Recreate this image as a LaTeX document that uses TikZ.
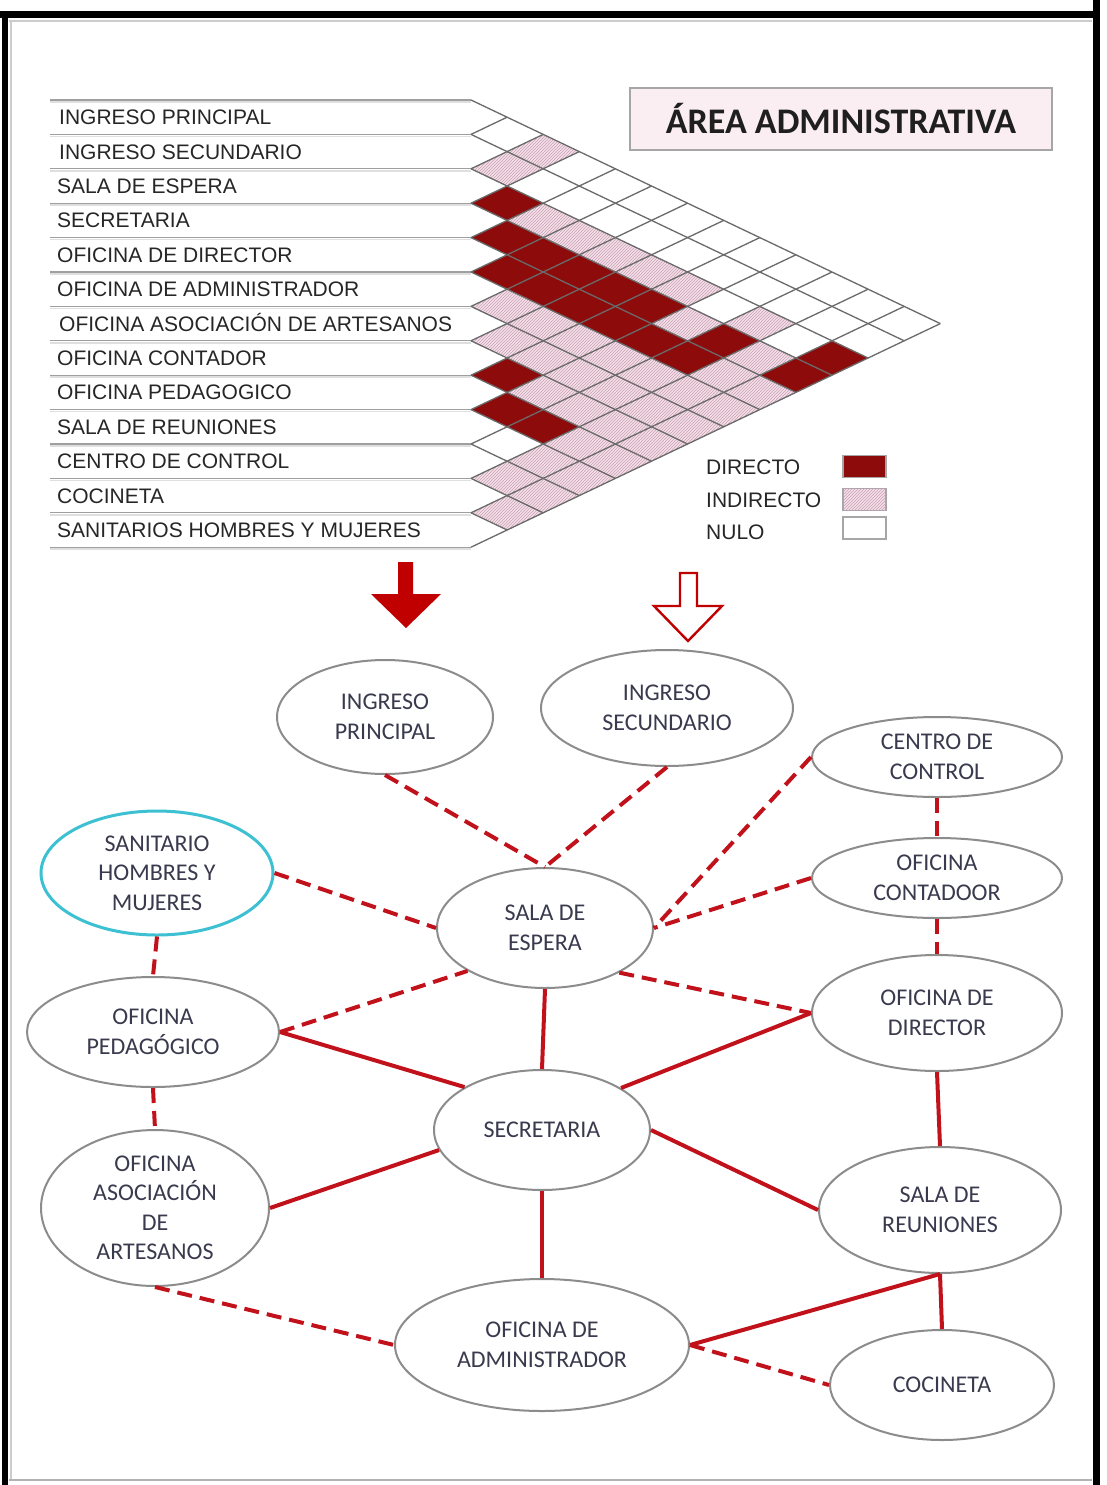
\documentclass[tikz,border=0pt]{standalone}
\usepackage{fontspec}
\setmainfont{Liberation Sans}
\newfontfamily\carlito{Carlito}
\usetikzlibrary{shapes.geometric,patterns}
\definecolor{dred}{HTML}{8E0B0B}
\definecolor{pinkc}{HTML}{F6E0E9}
\definecolor{hatchc}{HTML}{C6A2B6}
\definecolor{gridc}{HTML}{6A6A6A}
\definecolor{edgered}{HTML}{C1121C}
\definecolor{ellc}{HTML}{8C8C8C}
\definecolor{txtc}{HTML}{3A3A4E}
\definecolor{cyanb}{HTML}{3CC0D2}
\definecolor{titlebg}{HTML}{FBEEF3}
\definecolor{arrred}{HTML}{C00000}
\tikzset{
  gridline/.style={draw=gridc, line width=1.3pt},
  rowline/.style={draw=gray!75, line width=1.3pt},
  rowshadow/.style={draw=gray!25, line width=1.5pt},
  lbl/.style={anchor=west, inner sep=0pt, text=black!85, text height=15pt, text depth=0pt,
    font=\fontsize{21}{24}\selectfont},
  legtxt/.style={anchor=west, inner sep=0pt, text=black!85, text height=15pt, text depth=0pt,
    font=\fontsize{21}{24}\selectfont},
  swatch/.style={draw=gray!70, line width=1.2pt, minimum width=43pt, minimum height=22pt, inner sep=0pt},
  dcell/.style={fill=dred},
  icell/.style={fill=pinkc, postaction={pattern=north east lines, pattern color=hatchc}},
  titlebox/.style={draw=gray!70, line width=1.8pt, fill=titlebg, minimum width=422pt, minimum height=62pt,
    inner sep=0pt, text=black!88, font=\carlito\bfseries\fontsize{36}{40}\selectfont},
  room/.style={ellipse, draw=ellc, line width=2pt, fill=white, inner sep=0pt, align=center,
    text=txtc, font=\carlito\fontsize{24}{29.5}\selectfont},
  direct/.style={draw=edgered, line width=4pt},
  indirect/.style={draw=edgered, line width=4pt, dash pattern=on 15pt off 8pt},
}
\begin{document}
\begin{tikzpicture}[x=1pt,y=-1pt]
\useasboundingbox (0,0) rectangle (1107,1485);
\fill[white] (0,0) rectangle (1107,1485);
% frame
\fill[black] (0,11) rectangle (1100,18);
\fill[black] (2,11) rectangle (8,1485);
\fill[black] (1093,0) rectangle (1100,1485);
\draw[gray!40, line width=1.5pt] (9,21) -- (1092,21);
\draw[gray!40, line width=1.5pt] (11,21) -- (11,1480);
\draw[gray!60, line width=1.5pt] (9,1480) -- (1092,1480);

% ---------- matrix rows ----------
\foreach \k in {0,...,13} {
  \draw[rowshadow] (50,{100+\k*34.4+2}) -- (471,{100+\k*34.4+2});
  \draw[rowline] (50,{100+\k*34.4}) -- (471,{100+\k*34.4});
}
\node[lbl] (r1) at (59,{100+0.5*34.4}) {INGRESO PRINCIPAL};
\node[lbl] (r2) at (59,{100+1.5*34.4}) {INGRESO SECUNDARIO};
\node[lbl] (r3) at (57,{100+2.5*34.4}) {SALA DE ESPERA};
\node[lbl] (r4) at (57,{100+3.5*34.4}) {SECRETARIA};
\node[lbl] (r5) at (57,{100+4.5*34.4}) {OFICINA DE DIRECTOR};
\node[lbl] (r6) at (57,{100+5.5*34.4}) {OFICINA DE ADMINISTRADOR};
\node[lbl] (r7) at (59,{100+6.5*34.4}) {OFICINA ASOCIACIÓN DE ARTESANOS};
\node[lbl] (r8) at (57,{100+7.5*34.4}) {OFICINA CONTADOR};
\node[lbl] (r9) at (57,{100+8.5*34.4}) {OFICINA PEDAGOGICO};
\node[lbl] (r10) at (57,{100+9.5*34.4}) {SALA DE REUNIONES};
\node[lbl] (r11) at (57,{100+10.5*34.4}) {CENTRO DE CONTROL};
\node[lbl] (r12) at (57,{100+11.5*34.4}) {COCINETA};
\node[lbl] (r13) at (57,{100+12.5*34.4}) {SANITARIOS HOMBRES Y MUJERES};

% ---------- matrix cells ----------
\foreach \i/\j in {3/4,3/13,4/5,4/6,4/7,4/8,4/9,4/11,4/13,5/6,5/7,5/8,5/9,5/10,5/11,8/9,9/10,9/11} {
  \pgfmathsetmacro\cx{471+(\j-\i)*36.1}
  \pgfmathsetmacro\cy{100+(\i+\j-1)*17.2}
  \path[dcell] (\cx-36.1,\cy) -- (\cx,\cy-17.2) -- (\cx+36.1,\cy) -- (\cx,\cy+17.2) -- cycle;
}
\foreach \i/\j in {1/3,2/3,3/5,3/6,3/7,3/8,3/9,3/11,4/10,4/12,5/12,5/13,
  6/7,6/8,6/9,6/10,6/11,6/12,6/13,7/8,7/9,7/10,7/11,7/12,7/13,
  8/10,8/11,8/12,8/13,9/12,9/13,10/12,10/13,11/12,11/13,12/13} {
  \pgfmathsetmacro\cx{471+(\j-\i)*36.1}
  \pgfmathsetmacro\cy{100+(\i+\j-1)*17.2}
  \path[icell] (\cx-36.1,\cy) -- (\cx,\cy-17.2) -- (\cx+36.1,\cy) -- (\cx,\cy+17.2) -- cycle;
}
\foreach \k in {0,...,13} {
  \draw[gridline] (471,{100+\k*34.4}) -- ({471+(13-\k)*36.1},{100+(\k+13)*17.2});
  \draw[gridline] (471,{100+\k*34.4}) -- ({471+\k*36.1},{100+\k*17.2});
}

% ---------- title ----------
\node[titlebox] (title) at (841,119) {ÁREA ADMINISTRATIVA};

% ---------- legend ----------
\node[legtxt] (ldir) at (706,467) {DIRECTO};
\node[legtxt] (lind) at (706,500) {INDIRECTO};
\node[legtxt] (lnul) at (706,532) {NULO};
\node[swatch, fill=dred] (sdir) at (864.5,466.5) {};
\node[swatch, fill=pinkc, postaction={pattern=north east lines, pattern color=hatchc}] (sind) at (864.5,499.5) {};
\node[swatch, fill=white] (snul) at (864.5,528) {};

% ---------- arrows ----------
\fill[arrred] (398,562) -- (413,562) -- (413,594) -- (441,594) -- (406,628) -- (371,594) -- (398,594) -- cycle;
\draw[arrred, line width=2.4pt, fill=white, line join=miter]
  (680,573) -- (697,573) -- (697,606) -- (722,606) -- (688,641) -- (654,606) -- (680,606) -- cycle;

% ---------- rooms ----------
\node[room, minimum width=216pt, minimum height=114pt] (ip) at (385,717) {INGRESO\\PRINCIPAL};
\node[room, minimum width=252pt, minimum height=116pt] (is) at (667,708) {INGRESO\\SECUNDARIO};
\node[room, minimum width=250pt, minimum height=80pt] (cc) at (937,757) {CENTRO DE\\CONTROL};
\node[room, draw=cyanb, line width=3pt, minimum width=232pt, minimum height=124pt] (san) at (157,873) {SANITARIO\\HOMBRES Y\\MUJERES};
\node[room, minimum width=250pt, minimum height=80pt] (oc) at (937,878) {OFICINA\\CONTADOOR};
\node[room, minimum width=216pt, minimum height=120pt] (sala) at (545,928) {SALA DE\\ESPERA};
\node[room, minimum width=252pt, minimum height=110pt] (ped) at (153,1032) {OFICINA\\PEDAGÓGICO};
\node[room, minimum width=250pt, minimum height=116pt] (od) at (937,1013) {OFICINA DE\\DIRECTOR};
\node[room, minimum width=216pt, minimum height=120pt] (secr) at (542,1130) {SECRETARIA};
\node[room, minimum width=228pt, minimum height=156pt] (art) at (155,1208) {OFICINA\\ASOCIACIÓN\\DE\\ARTESANOS};
\node[room, minimum width=242pt, minimum height=126pt] (sr) at (940,1210) {SALA DE\\REUNIONES};
\node[room, minimum width=294pt, minimum height=132pt] (adm) at (542,1345) {OFICINA DE\\ADMINISTRADOR};
\node[room, minimum width=224pt, minimum height=110pt] (coc) at (942,1385) {COCINETA};

% ---------- connectors ----------
\draw[indirect] (ip.south) -- (sala.north);
\draw[indirect] (is.south) -- (sala.north);
\draw[indirect] (cc.west) -- (sala.east);
\draw[indirect] (oc.west) -- (sala.east);
\draw[indirect] (cc.south) -- (oc.north);
\draw[indirect] (oc.south) -- (od.north);
\draw[indirect] (san.east) -- (sala.west);
\draw[indirect] (san.south) -- (ped.north);
\draw[indirect] (ped.east) -- (sala.209);
\draw[indirect] (sala.-31) -- (od.west);
\draw[indirect] (ped.south) -- (art.north);
\draw[indirect] (art.south) -- (adm.west);
\draw[indirect] (adm.east) -- (coc.west);

\draw[direct] (sala.south) -- (secr.north);
\draw[direct] (ped.east) -- (secr.151);
\draw[direct] (od.west) -- (secr.28);
\draw[direct] (od.south) -- (sr.north);
\draw[direct] (secr.east) -- (sr.west);
\draw[direct] (art.east) -- (secr.191);
\draw[direct] (secr.south) -- (adm.north);
\draw[direct] (adm.east) -- (sr.south);
\draw[direct] (sr.south) -- (coc.north);
\end{tikzpicture}
\end{document}
